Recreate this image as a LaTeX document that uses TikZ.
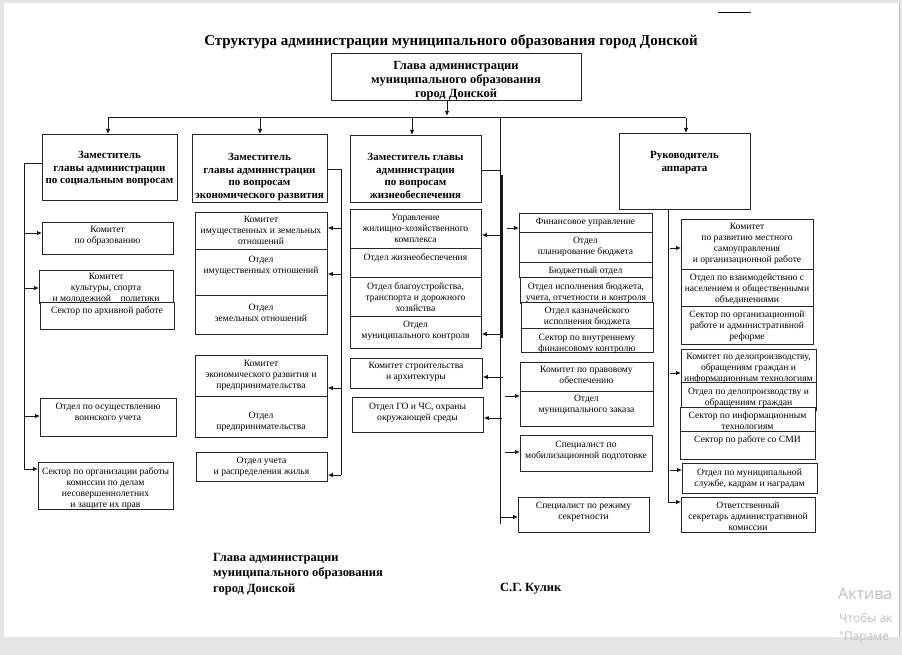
\documentclass[tikz,border=0pt]{standalone}
\usepackage{fontspec}
\setmainfont{Liberation Serif}
\newfontfamily\wmfont{Open Sans}
\usetikzlibrary{arrows.meta,calc}
\tikzset{
 bx/.style={draw=black!85, fill=white, line width=0.8pt, inner sep=0pt, rectangle, anchor=north west},
 tx/.style={align=center, inner sep=0pt, anchor=north, yshift=-3pt, text=black, font=\fontsize{9.6}{11}\selectfont},
 tb/.style={align=center, inner sep=0pt, anchor=north, yshift=-2pt, text=black, font=\bfseries\fontsize{11}{12.5}\selectfont},
 tg/.style={align=center, inner sep=0pt, anchor=north, yshift=-2pt, text=black, font=\bfseries\fontsize{12.5}{14}\selectfont},
 ln/.style={draw=black!90, line width=0.8pt},
 arr/.style={ln, -{Latex[length=5pt,width=4.5pt]}},
 wm/.style={anchor=west, inner sep=0pt, text=black!25},
}
\newcommand\ubox[8][tx]{%
 \node[bx, minimum width={(#5-#3)*1pt}, minimum height={(#6-#4)*1pt}] (#2) at (#3,#4) {};
 \pgfmathsetmacro\cx{(#3+#5)/2}%
 \node[#1] (#2-t) at (\cx,#7-4.5) {#8};}
\begin{document}
\begin{tikzpicture}[x=1pt,y=-1pt]
\useasboundingbox (0,0) rectangle (902,655);
\fill[black!10] (0,0) rectangle (902,655);
\fill[white] (4,3) rectangle (899,637);
\draw[black!25, line width=0.6pt] (899,3) -- (899,637);
\draw[line width=0.8pt] (718,12) -- (751,12);
% title
\node[font=\bfseries\fontsize{15}{18}\selectfont] (title) at (451,42) {Структура администрации муниципального образования город Донской};
% head
\ubox[tg]{glava}{331}{53}{581}{100}{64}{Глава администрации\\муниципального образования\\город Донской}
% deputies
\ubox[tb]{z1}{42}{134}{177}{200}{154}{Заместитель\\главы администрации\\по социальным вопросам}
\ubox[tb]{z2}{192}{134}{327}{202}{156}{Заместитель\\главы администрации\\по вопросам\\экономического развития}
\ubox[tb]{z3}{350}{135}{481}{202}{156}{Заместитель главы\\администрации\\по вопросам\\жизнеобеспечения}
\ubox[tb]{z4}{619}{133}{750}{209}{154}{Руководитель\\аппарата}
% column 1
\ubox{k1}{42}{222}{173}{254}{228}{Комитет\\по образованию}
\ubox{k2}{39}{270}{173}{303}{275}{Комитет\\культуры, спорта\\и молодежной\quad политики}
\ubox{k3}{40}{302}{174}{329}{308}{Сектор по архивной работе}
\ubox{k4}{40}{398}{176}{436}{404}{Отдел по осуществлению\\воинского учета}
\ubox{k5}{38}{462}{173}{509}{469}{Сектор по организации работы\\комиссии по делам\\несовершеннолетних\\и защите их прав}
% column 2
\ubox{e1}{195}{212}{327}{249}{218}{Комитет\\имущественных и земельных\\отношений}
\ubox{e2}{195}{249}{327}{295}{257}{Отдел\\имущественных отношений}
\ubox{e3}{195}{295}{327}{334}{305}{Отдел\\земельных отношений}
\ubox{e4}{195}{355}{327}{396}{362}{Комитет\\экономического развития и\\предпринимательства}
\ubox{e5}{195}{396}{327}{437}{413}{Отдел\\предпринимательства}
\ubox{e6}{196}{452}{327}{481}{458}{Отдел учета\\и распределения жилья}
% column 3
\ubox{g1}{350}{209}{481}{248}{216}{Управление\\жилищно-хозяйственного\\комплекса}
\ubox{g2}{350}{248}{481}{277}{255}{Отдел жизнеобеспечения}
\ubox{g3}{350}{277}{481}{316}{284}{Отдел благоустройства,\\транспорта и дорожного\\хозяйства}
\ubox{g4}{350}{316}{481}{348}{322}{Отдел\\муниципального контроля}
\ubox{g5}{350}{358}{482}{388}{364}{Комитет строительства\\и архитектуры}
\ubox{g6}{352}{397}{483}{432}{404}{Отдел ГО и ЧС, охраны\\окружающей среды}
% column 4
\ubox{f1}{519}{213}{652}{232}{220}{Финансовое управление}
\ubox{f2}{519}{232}{652}{262}{238}{Отдел\\планирование бюджета}
\ubox{f3}{519}{262}{652}{277}{268}{Бюджетный отдел}
\ubox{f4}{520}{277}{652}{303}{284}{Отдел исполнения бюджета,\\учета, отчетности и контроля}
\ubox{f5}{521}{302}{653}{328}{308}{Отдел казначейского\\исполнения бюджета}
\ubox{f6}{521}{328}{653}{352}{335}{Сектор по внутреннему\\финансовому контролю}
\ubox{p1}{520}{362}{653}{391}{368}{Комитет по правовому\\обеспечению}
\ubox{p2}{520}{391}{653}{426}{396}{Отдел\\муниципального заказа}
\ubox{s1}{520}{435}{652}{471}{442}{Специалист по\\мобилизационной подготовке}
\ubox{s2}{518}{497}{649}{532}{503}{Специалист по режиму\\секретности}
% column 5
\ubox{r1}{681}{219}{813}{269}{225}{Комитет\\по развитию местного\\самоуправления\\и организационной работе}
\ubox{r2}{681}{269}{813}{306}{275}{Отдел по взаимодействию с\\населением и общественными\\объединениями}
\ubox{r3}{681}{306}{813}{344}{312}{Сектор по организационной\\работе и административной\\реформе}
\ubox{r4}{681}{349}{816}{382}{355}{Комитет по делопроизводству,\\обращениям граждан и\\информационным технологиям}
\ubox{r5}{681}{382}{816}{410}{389}{Отдел по делопроизводству и\\обращениям граждан}
\ubox{r6}{680}{407}{815}{431}{413}{Сектор по информационным\\технологиям}
\ubox{r7}{680}{431}{815}{459}{437}{Сектор по работе со СМИ}
\ubox{r8}{682}{463}{817}{493}{470}{Отдел по муниципальной\\службе, кадрам и наградам}
\ubox{r9}{681}{497}{815}{532}{503}{Ответственный\\секретарь административной\\комиссии}
% bus
\coordinate (bA) at (108,118);
\coordinate (bB) at (686,118);
\draw[arr] (glava.south -| 447,0) -- (447,116);
\draw[draw=black!90, line width=0.7pt, double=white, double distance=0.8pt] (bA) -- (bB);
\draw[arr] (bA) -- (bA |- z1.north);
\draw[arr] (260,118) -- (z2.north -| 260,0);
\draw[arr] (412,118) -- (z3.north -| 412,0);
\draw[arr] (bB) -- (bB |- z4.north);
% long central line
\coordinate (cT) at (500,118);
\coordinate (cB) at (500,524);
\draw[ln] (cT) -- (cB);
% column 1 connector
\coordinate (L1) at (24,163);
\coordinate (L2) at (24,469);
\draw[ln] (z1.west |- L1) -- (L1) -- (L2);
\draw[arr] (24,233) -- (k1.west |- 24,233);
\draw[arr] (24,288) -- (k2.west |- 24,288);
\draw[arr] (24,416) -- (k4.west |- 24,416);
\draw[arr] (L2) -- (k5.west |- L2);
% column 2 connector
\coordinate (M1) at (341,169);
\coordinate (M2) at (341,475);
\draw[ln] (z2.east |- M1) -- (M1) -- (M2);
\draw[arr] (341,228) -- (e1.east |- 341,228);
\draw[arr] (341,274) -- (e2.east |- 341,274);
\draw[arr] (341,388) -- (e4.east |- 341,388);
\draw[arr] (M2) -- (e6.east |- M2);
% column 3 connector
\coordinate (N1) at (501,170);
\draw[ln] (z3.east |- N1) -- (N1);
\draw[draw=black!90, line width=1.6pt] (502,175) -- (502,338);
\draw[arr] (501,235) -- (g1.east |- 501,235);
\draw[arr] (501,334) -- (g4.east |- 501,334);
\draw[arr] (503,377) -- (g5.east |- 503,377);
\draw[arr] (502,418) -- (g6.east |- 502,418);
% column 4 arrows
\draw[arr] (507,228) -- (f1.west |- 507,228);
\draw[arr] (505,396) -- (p2.west |- 505,396);
\draw[arr] (505,452) -- (s1.west |- 505,452);
\draw[arr] (501,517) -- (s2.west |- 501,517);
% column 5 connector
\coordinate (R1) at (668,209);
\coordinate (R2) at (668,502);
\draw[ln] (R1) -- (R2);
\draw[arr] (670,248) -- (r1.west |- 670,248);
\draw[arr] (670,373) -- (r4.west |- 670,373);
\draw[arr] (670,470) -- (r8.west |- 670,470);
\draw[arr] (R2) -- (r9.west |- R2);
% signature
\node[anchor=north west, inner sep=0pt, align=left, font=\bfseries\fontsize{12.5}{15.5}\selectfont] (sig) at (213,553) {Глава администрации\\муниципального образования\\город Донской};
\node[anchor=west, inner sep=0pt, font=\bfseries\fontsize{12.5}{15}\selectfont] (kulik) at (500,589) {С.Г. Кулик};
% watermark
\node[wm, font=\wmfont\fontsize{16}{18}\selectfont] (wm1) at (838,594) {Актива};
\node[wm, font=\wmfont\fontsize{12}{14}\selectfont] (wm2) at (839,618) {Чтобы ак};
\node[wm, font=\wmfont\fontsize{12}{14}\selectfont] (wm3) at (839,638) {"Параме};
\end{tikzpicture}
\end{document}
